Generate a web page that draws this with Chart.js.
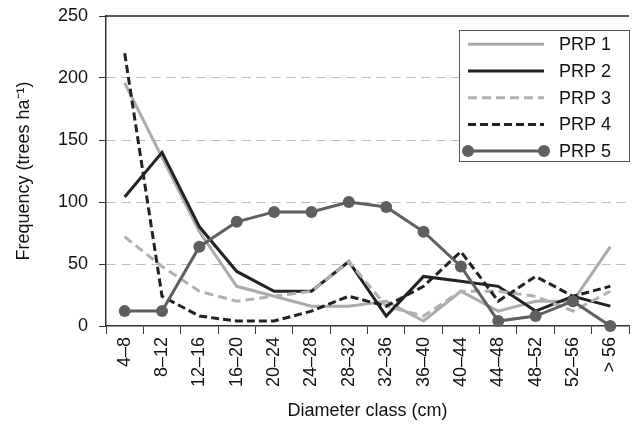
<!DOCTYPE html>
<html>
<head>
<meta charset="utf-8">
<script src="https://cdn.jsdelivr.net/npm/chart.js@4.4.1/dist/chart.umd.min.js"></script>
<style>
  html, body { margin: 0; padding: 0; background: #ffffff; }
  canvas { display: block; }
</style>
</head>
<body>
<canvas id="chart" width="635" height="435"></canvas>
<script>
// Diameter classes (cm) and stem frequency (trees ha⁻¹) for each plot
const diameterClasses = ['4–8', '8–12', '12–16', '16–20', '20–24', '24–28', '28–32',
                         '32–36', '36–40', '40–44', '44–48', '48–52', '52–56', '> 56'];
const prp1 = [196, 136, 76, 32, 24, 16, 16, 20, 4, 28, 12, 20, 20, 64];
const prp2 = [104, 140, 80, 44, 28, 28, 52, 8, 40, 36, 32, 12, 24, 16];
const prp3 = [72, 48, 28, 20, 24, 28, 52, 16, 8, 28, 28, 24, 12, 28];
const prp4 = [220, 24, 8, 4, 4, 12, 24, 16, 32, 60, 20, 40, 24, 32];
const prp5 = [12, 12, 64, 84, 92, 92, 100, 96, 76, 48, 4, 8, 20, 0];
const seriesNames = ['PRP 1', 'PRP 2', 'PRP 3', 'PRP 4', 'PRP 5'];
const yTicks = [0, 50, 100, 150, 200, 250];

const FONT = '"Liberation Sans", Arial, Helvetica, sans-serif';
Chart.defaults.font.family = FONT;
Chart.defaults.color = '#111111';

// Frame line along the top of the plot area
const topFrame = {
  id: 'topFrame',
  afterDraw(chart) {
    const { ctx, chartArea } = chart;
    ctx.save();
    ctx.strokeStyle = '#222222';
    ctx.lineWidth = 1.5;
    ctx.beginPath();
    ctx.moveTo(chartArea.left, chartArea.top);
    ctx.lineTo(chartArea.right, chartArea.top);
    ctx.stroke();
    ctx.restore();
  }
};

// Boxed legend in the upper right corner of the plot area
const boxLegend = {
  id: 'boxLegend',
  afterDatasetsDraw(chart) {
    const { ctx, chartArea } = chart;
    const w = 171, h = 132;
    const x = chartArea.right + 1 - w;
    const y = chartArea.top + 14;
    ctx.save();
    ctx.fillStyle = '#ffffff';
    ctx.fillRect(x, y, w, h);
    ctx.strokeStyle = '#555555';
    ctx.lineWidth = 1;
    ctx.strokeRect(x + 0.5, y + 0.5, w - 1, h - 1);
    chart.data.datasets.forEach((ds, i) => {
      const cy = y + 14.3 + i * 26.7;
      const x1 = x + 9, x2 = x + 85;
      ctx.strokeStyle = ds.borderColor;
      ctx.lineWidth = ds.borderWidth;
      ctx.setLineDash(ds.borderDash || []);
      ctx.beginPath();
      ctx.moveTo(x1, cy);
      ctx.lineTo(x2, cy);
      ctx.stroke();
      ctx.setLineDash([]);
      if (ds.pointRadius) {
        ctx.fillStyle = ds.pointBackgroundColor;
        [x1, x2].forEach(px => {
          ctx.beginPath();
          ctx.arc(px, cy, ds.pointRadius, 0, Math.PI * 2);
          ctx.fill();
        });
      }
      ctx.fillStyle = '#111111';
      ctx.font = '18px ' + FONT;
      ctx.textAlign = 'left';
      ctx.textBaseline = 'middle';
      ctx.fillText(ds.label, x + 100, cy + 1);
    });
    ctx.restore();
  }
};

const lineSeries = (label, data, color, dash, order) => ({
  label, data, order,
  borderColor: color,
  backgroundColor: color,
  borderWidth: 3,
  borderDash: dash,
  borderCapStyle: 'butt',
  borderJoinStyle: 'miter',
  pointRadius: 0,
  pointHoverRadius: 0,
  tension: 0,
  fill: false
});

const datasets = [
  lineSeries(seriesNames[0], prp1, '#ababab', [], 5),
  lineSeries(seriesNames[1], prp2, '#222222', [], 4),
  lineSeries(seriesNames[2], prp3, '#b0b0b0', [9, 5], 3),
  lineSeries(seriesNames[3], prp4, '#222222', [8, 4], 2),
  Object.assign(lineSeries(seriesNames[4], prp5, '#5f5f5f', [], 1), {
    pointRadius: 6,
    pointBackgroundColor: '#5f5f5f',
    pointBorderColor: '#5f5f5f',
    pointBorderWidth: 0,
    clip: false
  })
];

new Chart(document.getElementById('chart'), {
  type: 'line',
  data: { labels: diameterClasses, datasets },
  options: {
    responsive: false,
    animation: false,
    events: [],
    layout: { padding: { top: 16, right: 4, left: 0, bottom: 0 } },
    plugins: {
      legend: { display: false },
      tooltip: { enabled: false },
      title: { display: false }
    },
    scales: {
      x: {
        type: 'category',
        offset: true,
        grid: {
          display: true,
          offset: true,
          drawOnChartArea: false,
          drawTicks: true,
          tickLength: 8,
          tickColor: '#333333',
          tickWidth: 1
        },
        border: { display: true, color: '#333333', width: 1.5 },
        ticks: {
          autoSkip: false,
          minRotation: 90,
          maxRotation: 90,
          padding: 3,
          color: '#111111',
          font: { size: 18 }
        },
        title: {
          display: true,
          text: 'Diameter class (cm)',
          color: '#111111',
          font: { size: 18 },
          padding: { top: 0, bottom: 13 }
        },
        afterFit(scale) {
          scale.height = 109;
          scale.paddingLeft = 0;
          scale.paddingRight = 0;
        }
      },
      y: {
        min: yTicks[0],
        max: yTicks[yTicks.length - 1],
        afterBuildTicks(scale) { scale.ticks = yTicks.map(v => ({ value: v })); },
        grid: {
          display: true,
          drawOnChartArea: true,
          drawTicks: true,
          tickLength: 7,
          tickColor: '#333333',
          tickWidth: 1,
          lineWidth: 1,
          color: ctx => (ctx.tick && (ctx.tick.value === yTicks[0] || ctx.tick.value === yTicks[yTicks.length - 1]))
            ? 'rgba(0,0,0,0)' : '#bdbdbd'
        },
        border: { display: true, color: '#333333', width: 1.5, dash: [9, 6] },
        ticks: {
          padding: 11,
          color: '#111111',
          font: { size: 18 }
        },
        title: {
          display: true,
          text: 'Frequency (trees ha⁻¹)',
          color: '#111111',
          font: { size: 18 },
          padding: { top: 13, bottom: 0 }
        },
        afterFit(scale) {
          scale.width = 106;
          scale.paddingTop = 0;
          scale.paddingBottom = 0;
        }
      }
    }
  },
  plugins: [boxLegend, topFrame]
});
</script>
</body>
</html>
